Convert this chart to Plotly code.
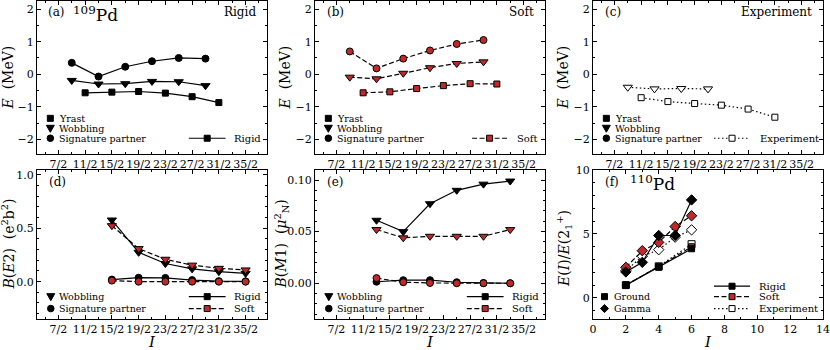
import plotly.graph_objects as go

# ---- data ----
# top row: band energies of 109Pd (MeV)
I_yrast = [11/2, 15/2, 19/2, 23/2, 27/2, 31/2]
I_band = [9/2, 13/2, 17/2, 21/2, 25/2, 29/2]
I_wob_exp = [9/2, 13/2, 17/2, 21/2]

rigid_yrast = [-0.57, -0.55, -0.53, -0.58, -0.69, -0.87]
rigid_wob = [-0.19, -0.30, -0.29, -0.22, -0.23, -0.35]
rigid_sig = [0.35, -0.07, 0.23, 0.40, 0.50, 0.48]

soft_yrast = [-0.57, -0.54, -0.44, -0.35, -0.29, -0.30]
soft_wob = [-0.09, -0.14, 0.03, 0.20, 0.33, 0.38]
soft_sig = [0.70, 0.18, 0.48, 0.73, 0.93, 1.05]

exp_yrast = [-0.72, -0.84, -0.90, -0.95, -1.07, -1.32]
exp_wob = [-0.40, -0.45, -0.44, -0.45]

# (d) B(E2), (e) B(M1)
I_e2 = [15/2, 19/2, 23/2, 27/2, 31/2, 35/2]
I_m1 = [13/2, 17/2, 21/2, 25/2, 29/2, 33/2]

be2_rigid_wob = [0.578, 0.275, 0.17, 0.12, 0.094, 0.078]
be2_soft_wob = [0.525, 0.31, 0.21, 0.155, 0.125, 0.11]
be2_rigid_sig = [0.02, 0.037, 0.035, 0.015, 0.005, 0.003]
be2_soft_sig = [0.01, 0.0, 0.0, 0.0, 0.0, 0.0]

bm1_rigid_wob = [0.061, 0.050, 0.077, 0.090, 0.096, 0.099]
bm1_soft_wob = [0.052, 0.044, 0.0455, 0.0455, 0.0455, 0.052]
bm1_rigid_sig = [0.0015, 0.003, 0.003, 0.001, 0.0003, 0.0]
bm1_soft_sig = [0.005, 0.001, 0.0003, 0.0, 0.0, 0.0]

# (f) 110Pd, E(I)/E(2+)
I_ground = [2, 4, 6]
I_gamma = [2, 3, 4, 5, 6]
rigid_ground = [1.0, 2.39, 3.84]
soft_ground = [1.0, 2.45, 4.0]
exp_ground = [1.0, 2.47, 4.2]
rigid_gamma = [2.03, 2.78, 4.88, 4.88, 7.66]
soft_gamma = [2.39, 3.69, 4.34, 5.58, 6.42]
exp_gamma = [2.13, 3.25, 3.77, 4.75, 5.32]

half_ticks = [3.5, 5.5, 7.5, 9.5, 11.5, 13.5, 15.5, 17.5]
half_text = ["7/2", "11/2", "15/2", "19/2", "23/2", "27/2", "31/2", "35/2"]

FONT = "DejaVu Serif"
RED = "#c0282a"

styles = {
    "rigid": dict(dash="solid", fill="black"),
    "soft": dict(dash="5px,2.5px", fill=RED),
    "exp": dict(dash="1.5px,2.5px", fill="white"),
}

fig = go.Figure()


def ax(n, kind):
    return kind if n == 1 else f"{kind}{n}"


def add(panel, x, y, model, symbol, size=7):
    st = styles[model]
    fig.add_trace(go.Scatter(
        x=x, y=y, mode="lines+markers",
        xaxis=ax(panel, "x"), yaxis=ax(panel, "y"),
        line=dict(color="black", width=1.2, dash=st["dash"]),
        marker=dict(symbol=symbol, size=size, color=st["fill"],
                    line=dict(color="black", width=1)),
        showlegend=False, hoverinfo="x+y"))


# panel 1-3: energies
add(1, I_yrast, rigid_yrast, "rigid", "square", 6)
add(1, I_band, rigid_wob, "rigid", "triangle-down", 8)
add(1, I_band, rigid_sig, "rigid", "circle")
add(2, I_yrast, soft_yrast, "soft", "square", 6)
add(2, I_band, soft_wob, "soft", "triangle-down", 8)
add(2, I_band, soft_sig, "soft", "circle")
add(3, I_yrast, exp_yrast, "exp", "square", 6)
add(3, I_wob_exp, exp_wob, "exp", "triangle-down", 8)

# panel 4: B(E2)
add(4, I_e2, be2_rigid_wob, "rigid", "triangle-down", 8)
add(4, I_e2, be2_soft_wob, "soft", "triangle-down", 8)
add(4, I_e2, be2_rigid_sig, "rigid", "circle")
add(4, I_e2, be2_soft_sig, "soft", "circle")

# panel 5: B(M1)
add(5, I_m1, bm1_rigid_wob, "rigid", "triangle-down", 8)
add(5, I_m1, bm1_soft_wob, "soft", "triangle-down", 8)
add(5, I_m1, bm1_rigid_sig, "rigid", "circle")
add(5, I_m1, bm1_soft_sig, "soft", "circle")

# panel 6: 110Pd
add(6, I_ground, exp_ground, "exp", "square", 7)
add(6, I_ground, soft_ground, "soft", "square", 6)
add(6, I_ground, rigid_ground, "rigid", "square", 6)
add(6, I_gamma, exp_gamma, "exp", "diamond", 8)
add(6, I_gamma, soft_gamma, "soft", "diamond", 8)
add(6, I_gamma, rigid_gamma, "rigid", "diamond", 8)

# ---- axes ----
cols = [(0.0, 0.2926), (0.3537, 0.6463), (0.7074, 1.0)]
rows = [(0.5189, 1.0), (0.0, 0.4686)]

minor = dict(ticks="inside", ticklen=2, tickcolor="black", tickwidth=1)
base = dict(showline=True, linecolor="black", linewidth=1, mirror="allticks",
            ticks="inside", ticklen=4, tickwidth=1, tickcolor="black",
            showgrid=False, zeroline=False, automargin=False, tickangle=0,
            tickfont=dict(family=FONT, size=11, color="black"))

xt = dict(range=[1.9, 19.1], tickmode="array", tickvals=half_ticks, ticktext=half_text,
          minor=dict(minor, tickmode="linear", tick0=0.5, dtick=1))
ye = dict(range=[-2.45, 2.25], tickmode="linear", tick0=0, dtick=1,
          minor=dict(minor, dtick=0.5))

axes = {
    1: (dict(xt), dict(ye)),
    2: (dict(xt), dict(ye)),
    3: (dict(xt), dict(ye)),
    4: (dict(xt),
        dict(range=[-0.35, 1.047], tickmode="linear", tick0=0, dtick=0.5, tickformat=".1f",
             minor=dict(minor, dtick=0.1))),
    5: (dict(xt),
        dict(range=[-0.0346, 0.1097], tickmode="linear", tick0=0, dtick=0.05, tickformat=".2f",
             minor=dict(minor, dtick=0.01))),
    6: (dict(range=[0, 14], tickmode="linear", tick0=0, dtick=2,
             minor=dict(minor, dtick=1)),
        dict(range=[-1.65, 10], tickmode="linear", tick0=0, dtick=5,
             minor=dict(minor, dtick=1))),
}

layout_axes = {}
for n in range(1, 7):
    r, c = divmod(n - 1, 3)
    xa, ya = axes[n]
    layout_axes["xaxis" if n == 1 else f"xaxis{n}"] = dict(base, **xa, domain=cols[c],
                                                           anchor=ax(n, "y"))
    layout_axes["yaxis" if n == 1 else f"yaxis{n}"] = dict(base, **ya, domain=rows[r],
                                                           anchor=ax(n, "x"))
fig.update_layout(**layout_axes)

# ---- texts ----
ann = []


def text(panel, x, y, s, size=12, xanchor="left", yanchor="middle", **kw):
    ann.append(dict(xref=ax(panel, "x") + " domain", yref=ax(panel, "y") + " domain",
                    x=x, y=y, text=s, showarrow=False, xanchor=xanchor, yanchor=yanchor,
                    font=dict(family=FONT, size=size, color="black"), **kw))


# axis titles
ytitles = {
    1: ("<i>E</i>  (MeV)", -29, 0.5),
    2: ("<i>E</i>  (MeV)", -30, 0.5),
    3: ("<i>E</i>  (MeV)", -30, 0.5),
    4: ("<i>B</i>(<i>E</i>2)  (e<sup>2</sup>b<sup>2</sup>)", -28, 0.5),
    5: ("<i>B</i>(<i>M</i>1)  (<i>μ</i><sup>2</sup><sub>N</sub>)", -33, 0.5),
    6: ("<i>E</i>(<i>I</i>)/<i>E</i>(2<sub>1</sub><sup>+</sup>)", -29, 0.47),
}
for p, (s, dx, yy) in ytitles.items():
    text(p, 0, yy, s, size=14, xanchor="center", textangle=-90, xshift=dx)
for p in (4, 5, 6):
    text(p, 0.5, 0, "<i>I</i>", size=15, xanchor="center", yshift=-23)

text(1, 0.04, 0.925, "(a)")
text(1, 0.15, 0.915, "<sup>109</sup>Pd", size=17)
text(1, 0.96, 0.925, "Rigid", xanchor="right")
text(2, 0.045, 0.925, "(b)")
text(2, 0.96, 0.925, "Soft", xanchor="right")
text(3, 0.045, 0.925, "(c)")
text(3, 0.96, 0.925, "Experiment", xanchor="right")
text(4, 0.045, 0.92, "(d)")
text(5, 0.045, 0.92, "(e)")
text(6, 0.045, 0.92, "(f)")
text(6, 0.15, 0.91, "<sup>110</sup>Pd", size=17)

# ---- legends drawn by hand (matplotlib style, tight rows) ----
shapes = []
paths = {
    "square": "M -3,-3 L 3,-3 L 3,3 L -3,3 Z",
    "triangle-down": "M -4,3 L 4,3 L 0,-4 Z",
    "diamond": "M 0,4 L 4,0 L 0,-4 L -4,0 Z",
}


def glyph(panel, x, y, symbol, fill):
    common = dict(xref=ax(panel, "x") + " domain", yref=ax(panel, "y") + " domain",
                  xsizemode="pixel", ysizemode="pixel", xanchor=x, yanchor=y,
                  fillcolor=fill, line=dict(color="black", width=1), layer="above")
    if symbol == "circle":
        shapes.append(dict(type="circle", x0=-3.3, x1=3.3, y0=-3.3, y1=3.3, **common))
    else:
        shapes.append(dict(type="path", path=paths[symbol], **common))


def marker_legend(panel, gx, tx, ys, items):
    for y, (sym, label) in zip(ys, items):
        glyph(panel, gx, y, sym, "black")
        text(panel, tx, y, label, size=9.5)


def line_legend(panel, x0, x1, tx, ys, models):
    for y, (model, label) in zip(ys, models):
        st = styles[model]
        shapes.append(dict(type="line", xref=ax(panel, "x") + " domain",
                           yref=ax(panel, "y") + " domain", x0=x0, x1=x1, y0=y, y1=y,
                           line=dict(color="black", width=1.2, dash=st["dash"])))
        glyph(panel, (x0 + x1) / 2, y, "square", st["fill"])
        text(panel, tx, y, label, size=10)


top_items = [("square", "Yrast"), ("triangle-down", "Wobbling"), ("circle", "Signature partner")]
bot_items = [("triangle-down", "Wobbling"), ("circle", "Signature partner")]

for p in (1, 2, 3):
    marker_legend(p, 0.058, 0.088, [0.233, 0.168, 0.103], top_items)
line_legend(1, 0.66, 0.82, 0.85, [0.103], [("rigid", "Rigid")])
line_legend(2, 0.683, 0.835, 0.87, [0.103], [("soft", "Soft")])
line_legend(3, 0.526, 0.683, 0.717, [0.103], [("exp", "Experiment")])

for p in (4, 5):
    marker_legend(p, 0.06, 0.088, [0.15, 0.07], bot_items)
    line_legend(p, 0.66, 0.82, 0.85, [0.15, 0.07], [("rigid", "Rigid"), ("soft", "Soft")])

marker_legend(6, 0.05, 0.082, [0.15, 0.07], [("square", "Ground"), ("diamond", "Gamma")])
line_legend(6, 0.526, 0.683, 0.712, [0.22, 0.15, 0.07],
            [("rigid", "Rigid"), ("soft", "Soft"), ("exp", "Experiment")])

fig.update_layout(
    annotations=ann, shapes=shapes,
    width=830, height=350,
    margin=dict(l=37, r=7, t=1, b=31, autoexpand=False),
    paper_bgcolor="white", plot_bgcolor="white",
    font=dict(family=FONT, size=11, color="black"),
    showlegend=False,
)

# drop the browser's default 8px body margin so the figure fills the window
fig.write_html("out.html", config={"displayModeBar": False},
               post_script="document.body.style.margin='0px';")
